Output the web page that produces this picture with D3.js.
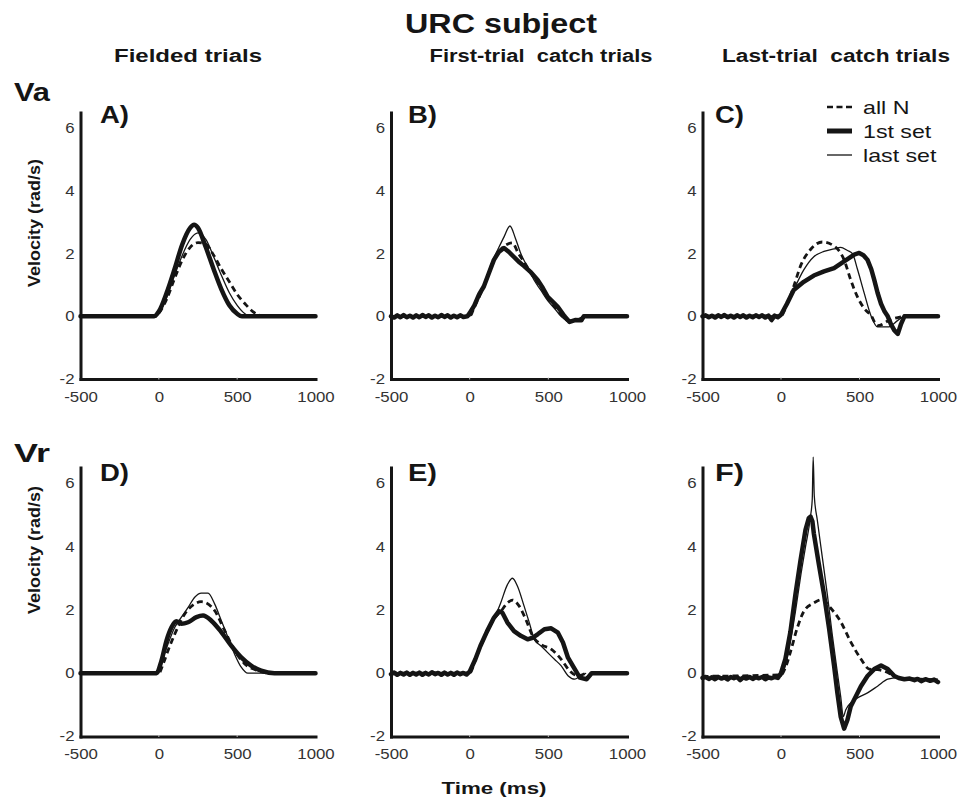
<!DOCTYPE html>
<html><head><meta charset="utf-8">
<script src="https://cdn.jsdelivr.net/npm/d3@7"></script>
<style>
body{margin:0;background:#fff}
svg{display:block}
text{font-family:"Liberation Sans",Arial,Helvetica,sans-serif}
</style>
</head><body>
<svg id="c" width="961" height="804"></svg>
<script>
// ---------------- data ----------------
const timeTicks = [-500, 0, 500, 1000];
const timeTickLabels = ["-500", "0", "500", "1000"];
const velTicks = [-2, 0, 2, 4, 6];
const velTickLabels = ["-2", "0", "2", "4", "6"];
const timeDomain = [-500, 1000];
const velDomain = [-2, 6.5];
const panelLabels = ["A)", "B)", "C)", "D)", "E)", "F)"];
const columnTitles = ["Fielded trials", "First-trial  catch trials", "Last-trial  catch trials"];
const rowLabels = ["Va", "Vr"];
const legendLabels = ["all N", "1st set", "last set"];
const mainTitle = "URC subject";
const yTitle = "Velocity (rad/s)";
const xTitle = "Time (ms)";

// Panel A (Va, fielded)
const A_first = [[-500,0],[-30,0],[0,0.15],[50,0.75],[100,1.5],[150,2.3],[200,2.82],[225,2.92],[250,2.82],[300,2.2],[350,1.5],[400,0.85],[450,0.35],[500,0.08],[530,0],[1000,0]];
const A_last  = [[-500,0],[-20,0],[0,0.1],[50,0.6],[100,1.3],[150,1.95],[200,2.45],[250,2.66],[300,2.45],[350,1.9],[400,1.3],[450,0.75],[500,0.35],[550,0.08],[580,0],[680,0]];
const A_allN  = [[-500,0],[-20,0],[0,0.1],[50,0.55],[100,1.2],[150,1.8],[200,2.2],[250,2.35],[300,2.3],[350,1.95],[400,1.5],[450,1.1],[500,0.7],[550,0.4],[600,0.15],[650,0.02],[680,0]];
// Panel B (Va, first-trial catch)
const B_first = [[-500,0],[-480,-0.04],[-460,0.03],[-440,-0.03],[-420,0.04],[-400,-0.03],[-380,0.02],[-360,-0.04],[-340,0.03],[-320,-0.03],[-300,0.04],[-280,-0.02],[-260,0.03],[-240,-0.04],[-220,0.02],[-200,-0.03],[-180,0.04],[-160,-0.02],[-140,0.03],[-120,-0.04],[-100,0.02],[-80,-0.03],[-60,0.03],[-40,-0.02],[-15,0],[0,0.1],[30,0.35],[60,0.7],[90,0.95],[120,1.35],[154,1.8],[185,2.05],[218,2.18],[250,2.05],[280,1.9],[310,1.75],[346,1.6],[390,1.4],[432,1.16],[465,0.9],[496,0.62],[530,0.45],[560,0.3],[603,0],[635,-0.18],[670,-0.12],[710,-0.13],[725,0],[1000,0]];
const B_last  = [[-500,0],[0,0],[30,0.3],[90,0.95],[154,1.85],[186,2.2],[220,2.55],[256,2.88],[290,2.5],[325,2.0],[370,1.55],[410,1.15],[450,0.85],[496,0.5],[540,0.25],[581,0],[624,-0.15],[680,-0.1],[720,0]];
const B_allN  = [[-500,0],[0,0],[30,0.3],[90,0.95],[154,1.8],[200,2.15],[240,2.3],[271,2.34],[310,2.0],[350,1.7],[400,1.3],[450,0.95],[496,0.6],[540,0.3],[590,0],[630,-0.15],[700,-0.1],[720,0]];
// Panel C (Va, last-trial catch)
const C_first = [[-500,0],[-480,0.03],[-460,-0.03],[-440,0.02],[-420,-0.04],[-400,0.03],[-380,-0.02],[-360,0.04],[-340,-0.03],[-320,0.02],[-300,-0.04],[-280,0.03],[-260,-0.02],[-240,0.03],[-220,-0.04],[-200,0.02],[-180,-0.03],[-160,0.03],[-140,-0.02],[-120,0.03],[-100,-0.04],[-80,0.02],[-60,-0.12],[-40,0.02],[-20,-0.03],[0,0.05],[38,0.4],[81,0.84],[145,1.1],[209,1.3],[274,1.43],[338,1.54],[402,1.75],[440,1.88],[466,1.97],[498,2.02],[525,1.95],[551,1.8],[575,1.5],[594,1.16],[615,0.75],[637,0.4],[660,0.15],[680,0],[700,-0.25],[722,-0.45],[744,-0.56],[765,-0.24],[786,0],[1000,0]];
const C_last  = [[-500,0],[0,0.02],[40,0.4],[81,0.84],[145,1.48],[209,1.9],[274,2.07],[338,2.15],[380,2.2],[423,2.1],[455,2.0],[487,1.5],[530,0.74],[573,0.02],[615,-0.34],[680,-0.34],[744,-0.13],[780,0]];
const C_allN  = [[-500,0],[0,0.02],[40,0.4],[81,0.95],[124,1.6],[188,2.13],[263,2.37],[338,2.24],[402,1.8],[444,1.16],[487,0.62],[530,0.25],[573,0.03],[615,-0.3],[700,-0.1],[780,0]];
// Panel D (Vr, fielded)
const D_first = [[-500,0],[-15,0],[17,0.4],[49,1.03],[81,1.45],[112,1.64],[144,1.56],[187,1.61],[240,1.77],[282,1.82],[335,1.66],[399,1.3],[462,0.87],[526,0.5],[589,0.24],[653,0.08],[738,0],[1000,0]];
const D_last  = [[-500,0],[-10,0],[28,0.5],[59,0.93],[102,1.45],[144,1.77],[187,2.08],[229,2.4],[271,2.53],[314,2.53],[356,2.19],[399,1.66],[441,1.14],[483,0.61],[526,0.19],[568,0],[700,0]];
const D_allN  = [[-500,0],[0,0],[28,0.3],[59,0.72],[102,1.24],[165,1.87],[229,2.19],[270,2.26],[293,2.24],[356,1.98],[420,1.35],[483,0.72],[547,0.3],[632,0.08],[700,0]];
// Panel E (Vr, first-trial catch)
const E_first = [[-500,-0.03],[-480,0.02],[-460,-0.05],[-440,0.01],[-420,-0.04],[-400,0.02],[-380,-0.05],[-360,0.01],[-340,-0.04],[-320,0.02],[-300,-0.05],[-280,0.01],[-260,-0.04],[-240,0.03],[-220,-0.03],[-200,0.01],[-180,-0.05],[-160,0.02],[-140,-0.04],[-120,0.01],[-100,-0.05],[-80,0.02],[-60,-0.03],[-40,0.01],[-20,-0.04],[0,0.05],[36,0.44],[68,0.86],[111,1.33],[154,1.75],[186,1.96],[208,1.91],[240,1.6],[282,1.33],[325,1.18],[368,1.07],[400,1.12],[432,1.23],[475,1.39],[518,1.42],[561,1.28],[593,0.97],[625,0.49],[668,0.13],[700,-0.14],[743,-0.19],[775,0],[1000,0]];
const E_last  = [[-500,0],[0,0],[36,0.4],[68,0.82],[111,1.28],[154,1.7],[197,2.22],[240,2.8],[272,3.0],[304,2.75],[346,2.12],[379,1.6],[411,1.07],[454,0.86],[496,0.65],[539,0.44],[582,0.23],[625,-0.08],[668,-0.19],[700,-0.1],[740,0]];
const E_allN  = [[-500,0],[0,0],[36,0.42],[68,0.84],[111,1.3],[154,1.72],[197,1.95],[240,2.22],[272,2.31],[315,2.12],[357,1.7],[400,1.18],[454,0.91],[518,0.76],[582,0.44],[636,0.07],[689,-0.08],[740,0]];
// Panel F (Vr, last-trial catch)
const F_first = [[-500,-0.15],[-480,-0.12],[-460,-0.18],[-440,-0.13],[-420,-0.19],[-400,-0.12],[-380,-0.17],[-360,-0.13],[-340,-0.2],[-320,-0.12],[-300,-0.16],[-280,-0.12],[-260,-0.22],[-240,-0.13],[-220,-0.17],[-200,-0.12],[-180,-0.18],[-160,-0.13],[-140,-0.16],[-120,-0.12],[-100,-0.19],[-80,-0.13],[-60,-0.16],[-40,-0.12],[-20,-0.15],[0,0],[28,0.45],[60,1.31],[92,2.49],[124,3.56],[156,4.53],[177,4.9],[188,4.95],[200,4.8],[209,4.42],[241,3.45],[274,2.49],[306,1.42],[338,0.24],[359,-0.62],[380,-1.37],[402,-1.75],[423,-1.48],[444,-1.05],[477,-0.73],[509,-0.41],[551,-0.09],[594,0.13],[637,0.24],[680,0.13],[722,-0.09],[750,-0.15],[786,-0.19],[820,-0.17],[850,-0.22],[870,-0.18],[893,-0.25],[920,-0.19],[950,-0.24],[975,-0.2],[1000,-0.28]];
const F_last  = [[-500,-0.15],[0,-0.1],[28,0.24],[60,0.99],[92,1.95],[124,3.03],[156,3.99],[188,4.96],[199,5.49],[205,6.83],[212,5.6],[231,4.85],[263,3.67],[295,2.49],[327,1.2],[359,0.02],[380,-0.73],[397,-1.37],[412,-1.16],[444,-0.94],[487,-0.78],[551,-0.62],[615,-0.41],[680,-0.19],[744,-0.14],[1000,-0.19]];
const F_allN  = [[-500,-0.1],[0,-0.05],[30,0.2],[60,0.67],[103,1.42],[145,1.95],[209,2.22],[263,2.33],[316,2.06],[380,1.63],[444,0.99],[509,0.45],[562,0.13],[615,0.11],[680,0.02],[720,-0.1]];

const seriesByPanel = [
  {first:A_first, last:A_last, allN:A_allN},
  {first:B_first, last:B_last, allN:B_allN},
  {first:C_first, last:C_last, allN:C_allN},
  {first:D_first, last:D_last, allN:D_allN},
  {first:E_first, last:E_last, allN:E_allN},
  {first:F_first, last:F_last, allN:F_allN}
];

// ---------------- layout ----------------
const svg = d3.select("#c");
const colX = [[80.5,315.5],[391,627],[702.5,938]];
const rowY = [[379,112.5],[736.5,467.5]];
const labelX = [100,408,715];
const labelBase = [123,481];
const STRETCH = 1.2;
const ink = "#151515";

function stretch(sel, k){
  sel.each(function(){
    const w = this.getComputedTextLength();
    d3.select(this).attr("textLength", w*k).attr("lengthAdjust","spacingAndGlyphs");
  });
}

seriesByPanel.forEach((s, i) => {
  const c = i % 3, r = Math.floor(i / 3);
  const x = d3.scaleLinear().domain(timeDomain).range(colX[c]);
  const y = d3.scaleLinear().domain(velDomain).range(rowY[r]);
  const g = svg.append("g");

  // axes
  const ax = g.append("g").attr("transform", `translate(0,${y(velDomain[0])})`)
    .call(d3.axisBottom(x).tickValues(timeTicks).tickFormat((d, j) => timeTickLabels[j])
      .tickSize(0).tickPadding(13).tickSizeOuter(0));
  const ay = g.append("g").attr("transform", `translate(${x(timeDomain[0])},0)`)
    .call(d3.axisLeft(y).tickValues(velTicks).tickFormat((d, j) => velTickLabels[j])
      .tickSize(0).tickPadding(6).tickSizeOuter(0));
  [ax, ay].forEach(a => {
    a.select(".domain").attr("stroke", ink).attr("stroke-width", 3).attr("stroke-linecap","square");
    a.selectAll("text").attr("font-size", 14).attr("fill", "#333").attr("font-family", '"Liberation Sans",Arial,sans-serif');
  });
  // faint tick notches on x axis
  g.selectAll(".notch").data(timeTicks.slice(1, -1)).join("line")
    .attr("x1", d => x(d)).attr("x2", d => x(d))
    .attr("y1", y(velDomain[0]) - 1.5).attr("y2", y(velDomain[0]) + 0.5)
    .attr("stroke", "#bbb").attr("stroke-width", 1);
  stretch(ax.selectAll("text"), STRETCH);
  stretch(ay.selectAll("text"), STRETCH);

  const line = d3.line().x(d => x(d[0])).y(d => y(d[1])).curve(d3.curveMonotoneX);
  const jag = d3.line().x(d => x(d[0])).y(d => y(d[1])).curve(d3.curveLinear);
  g.append("path").attr("d", (i === 0 || i === 3 ? line : jag)(s.first)).attr("fill","none").attr("stroke", ink)
    .attr("stroke-width", 4.5).attr("stroke-linejoin","round").attr("stroke-linecap","round");
  g.append("path").attr("d", line(s.allN)).attr("fill","none").attr("stroke", ink)
    .attr("stroke-width", 2.8).attr("stroke-dasharray","6,4");
  g.append("path").attr("d", line(s.last)).attr("fill","none").attr("stroke", ink)
    .attr("stroke-width", 1.3).attr("stroke-linejoin","round");

  // panel letter
  g.append("text").attr("x", labelX[c]).attr("y", labelBase[r])
    .attr("font-size", 24).attr("font-weight", "bold").attr("fill", ink)
    .attr("textLength", 29).attr("lengthAdjust","spacingAndGlyphs")
    .text(panelLabels[i]);
});

// main title
svg.append("text").attr("x", 501).attr("y", 33).attr("text-anchor","middle")
  .attr("font-size", 27).attr("font-weight","bold").attr("fill", ink)
  .attr("textLength", 192).attr("lengthAdjust","spacingAndGlyphs").text(mainTitle);

// column titles
const colTitleCx = [188, 541, 836];
const colTitleW = [148, 223, 228];
columnTitles.forEach((t, i) => {
  svg.append("text").attr("x", colTitleCx[i]).attr("y", 62).attr("text-anchor","middle")
    .attr("font-size", 18).attr("font-weight","bold").attr("fill", ink)
    .style("white-space","pre")
    .attr("textLength", colTitleW[i]).attr("lengthAdjust","spacingAndGlyphs").text(t);
});

// row labels
const rowLabelBase = [101, 462];
rowLabels.forEach((t, i) => {
  svg.append("text").attr("x", 14).attr("y", rowLabelBase[i])
    .attr("font-size", 25).attr("font-weight","bold").attr("fill", ink)
    .attr("textLength", 36).attr("lengthAdjust","spacingAndGlyphs").text(t);
});

// y titles
const yTitleCy = [223, 550];
yTitleCy.forEach(cy => {
  svg.append("text").attr("transform", `translate(40,${cy}) rotate(-90)`)
    .attr("text-anchor","middle").attr("font-size", 16).attr("font-weight","bold").attr("fill", ink)
    .attr("textLength", 128).attr("lengthAdjust","spacingAndGlyphs").text(yTitle);
});

// x title
svg.append("text").attr("x", 494).attr("y", 794).attr("text-anchor","middle")
  .attr("font-size", 17).attr("font-weight","bold").attr("fill", ink)
  .attr("textLength", 105).attr("lengthAdjust","spacingAndGlyphs").text(xTitle);

// legend (panel C)
const legY = [107, 131, 155];
const legStyles = [
  {w:2.6, dash:"6,3.5"},
  {w:5, dash:null},
  {w:1.3, dash:null}
];
const lg = svg.append("g");
legendLabels.forEach((t, i) => {
  lg.append("line").attr("x1", 827).attr("x2", 852).attr("y1", legY[i]).attr("y2", legY[i])
    .attr("stroke", ink).attr("stroke-width", legStyles[i].w)
    .attr("stroke-dasharray", legStyles[i].dash);
  const tx = lg.append("text").attr("x", 863).attr("y", legY[i] + 7)
    .attr("font-size", 19).attr("fill", ink).text(t);
  stretch(tx, 1.22);
});
</script>
</body></html>
